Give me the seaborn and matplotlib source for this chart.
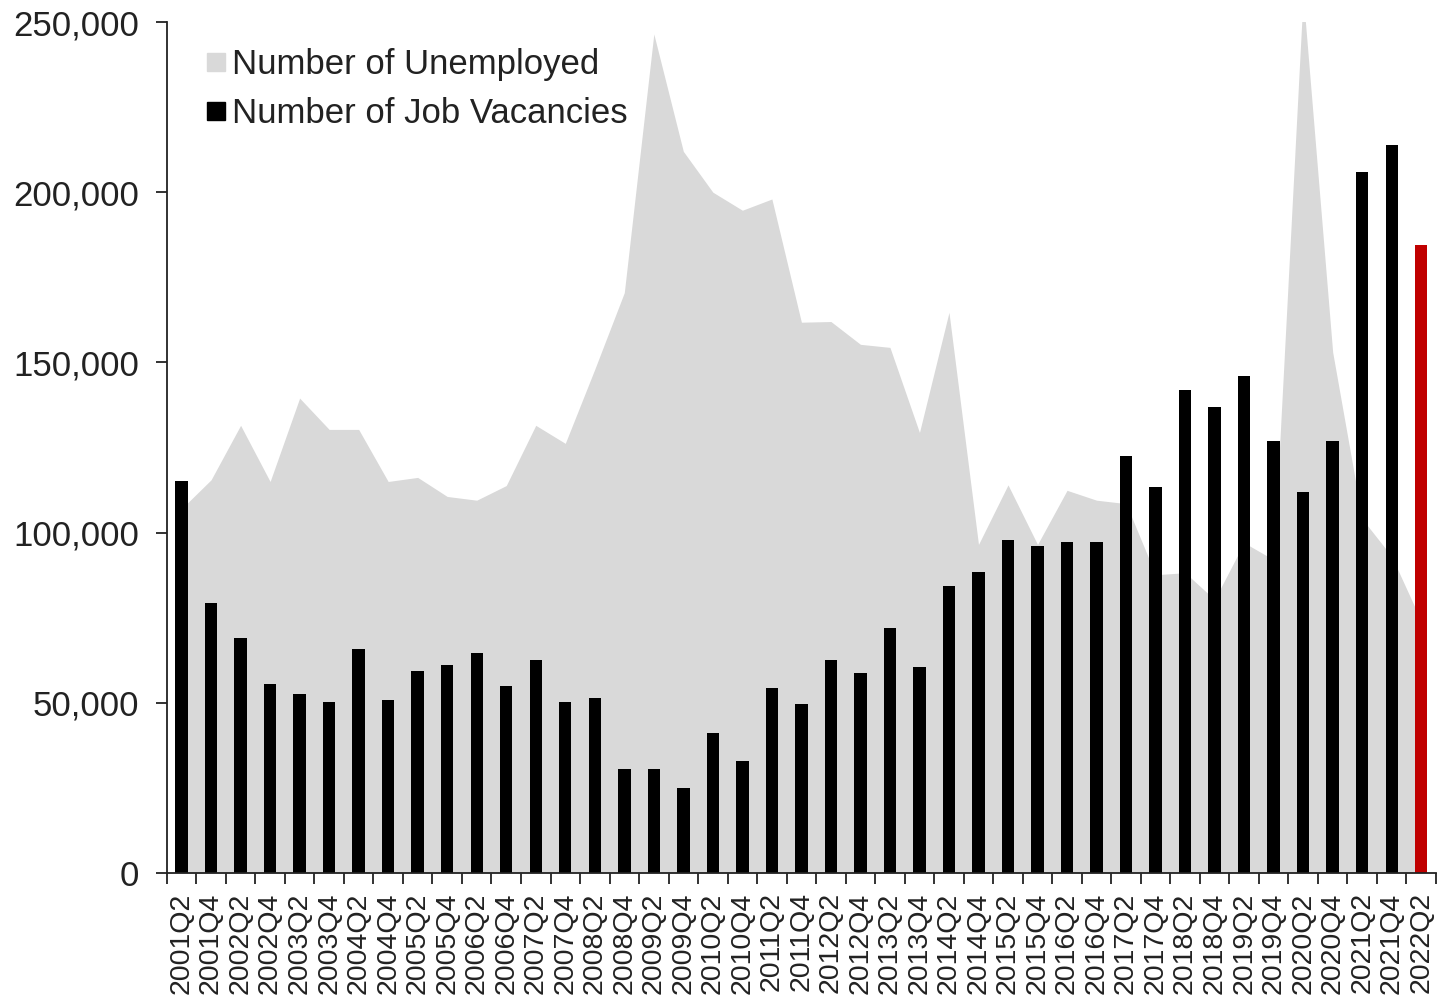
import matplotlib
matplotlib.use("Agg")
import matplotlib.pyplot as plt
import seaborn as sns
import numpy as np
import pandas as pd
from matplotlib.lines import Line2D
from matplotlib.ticker import FuncFormatter, FixedLocator

# ---- data ----
periods = [f"{y}Q{q}" for y in range(2001, 2022) for q in (2, 4)] + ["2022Q2"]

unemployed = [107000, 115500, 131500, 115000, 139500, 130300, 130300, 115000, 116200, 110600,
              109500, 113800, 131500, 126200, 148000, 170500, 246500, 212000, 200000, 194700,
              198000, 161800, 162000, 155300, 154400, 129400, 164700, 96500, 114000, 96500,
              112400, 109500, 108500, 87600, 88200, 80300, 97000, 92000, 258000, 153000,
              104000, 93000, 74000]

vacancies = [115000, 79400, 69100, 55600, 52600, 50300, 65900, 50900, 59400, 61200,
             64700, 55000, 62400, 50300, 51500, 30600, 30600, 25000, 41200, 33000,
             54400, 49700, 62400, 58800, 72000, 60600, 84400, 88500, 97900, 96000,
             97300, 97300, 122600, 113500, 141800, 136800, 145900, 127000, 111800, 127000,
             205900, 213800, 184400]

series_labels = ["Number of Unemployed", "Number of Job Vacancies"]
y_ticks = [0, 50000, 100000, 150000, 200000, 250000]

AREA = "#D9D9D9"
BAR = "#000000"
LATEST = "#C00000"

df = pd.DataFrame({"period": periods, "vac": vacancies, "unemp": unemployed})
bar_colors = [BAR] * (len(periods) - 1) + [LATEST]

sns.set_theme(style="white")
plt.rcParams["font.family"] = ["Liberation Sans", "DejaVu Sans"]

fig = plt.figure(figsize=(14.38, 10.01), dpi=100)
ax = fig.add_axes([0.116, 0.128, 0.8826, 0.850])

x = np.arange(len(periods))
ax.fill_between(x, df["unemp"], 0, color=AREA, linewidth=0, zorder=1)

sns.barplot(data=df, x="period", y="vac", hue="period", palette=bar_colors,
            legend=False, width=0.42, ax=ax, zorder=2, saturation=1, linewidth=0)

ax.set_xlim(-0.5, len(periods) - 0.5)
ax.set_ylim(0, 250000)
ax.set_xlabel("")
ax.set_ylabel("")

ax.yaxis.set_major_locator(FixedLocator(y_ticks))
ax.yaxis.set_major_formatter(FuncFormatter(lambda v, p: f"{int(v):,}"))
ax.tick_params(axis="y", which="major", direction="out", length=8, width=1.3,
               color="#222222", labelsize=25, labelcolor="#222222", pad=12, left=True)

ax.set_xticks(x)
ax.set_xticklabels(periods, rotation=90, fontsize=20.5, color="#222222")
ax.tick_params(axis="x", which="major", length=0, pad=14)
ax.set_xticks(np.arange(-0.5, len(periods)), minor=True)
ax.tick_params(axis="x", which="minor", direction="out", length=8, width=1.3,
               color="#222222", bottom=True)

for s in ["top", "right"]:
    ax.spines[s].set_visible(False)
for s in ["left", "bottom"]:
    ax.spines[s].set_color("#222222")
    ax.spines[s].set_linewidth(1.3)
ax.spines["bottom"].set_zorder(5)
ax.grid(False)

handles = [Line2D([0], [0], marker="s", linestyle="none", markersize=12.5,
                  markerfacecolor=AREA, markeredgecolor=AREA),
           Line2D([0], [0], marker="s", linestyle="none", markersize=12.5,
                  markerfacecolor=BAR, markeredgecolor=BAR)]
ax.legend(handles, series_labels, loc="upper left", bbox_to_anchor=(0.006, 1.006),
          frameon=False, fontsize=25, handlelength=0.6, handletextpad=0.15,
          labelspacing=0.45, labelcolor="#222222")

fig.savefig("out.png", dpi=100)
